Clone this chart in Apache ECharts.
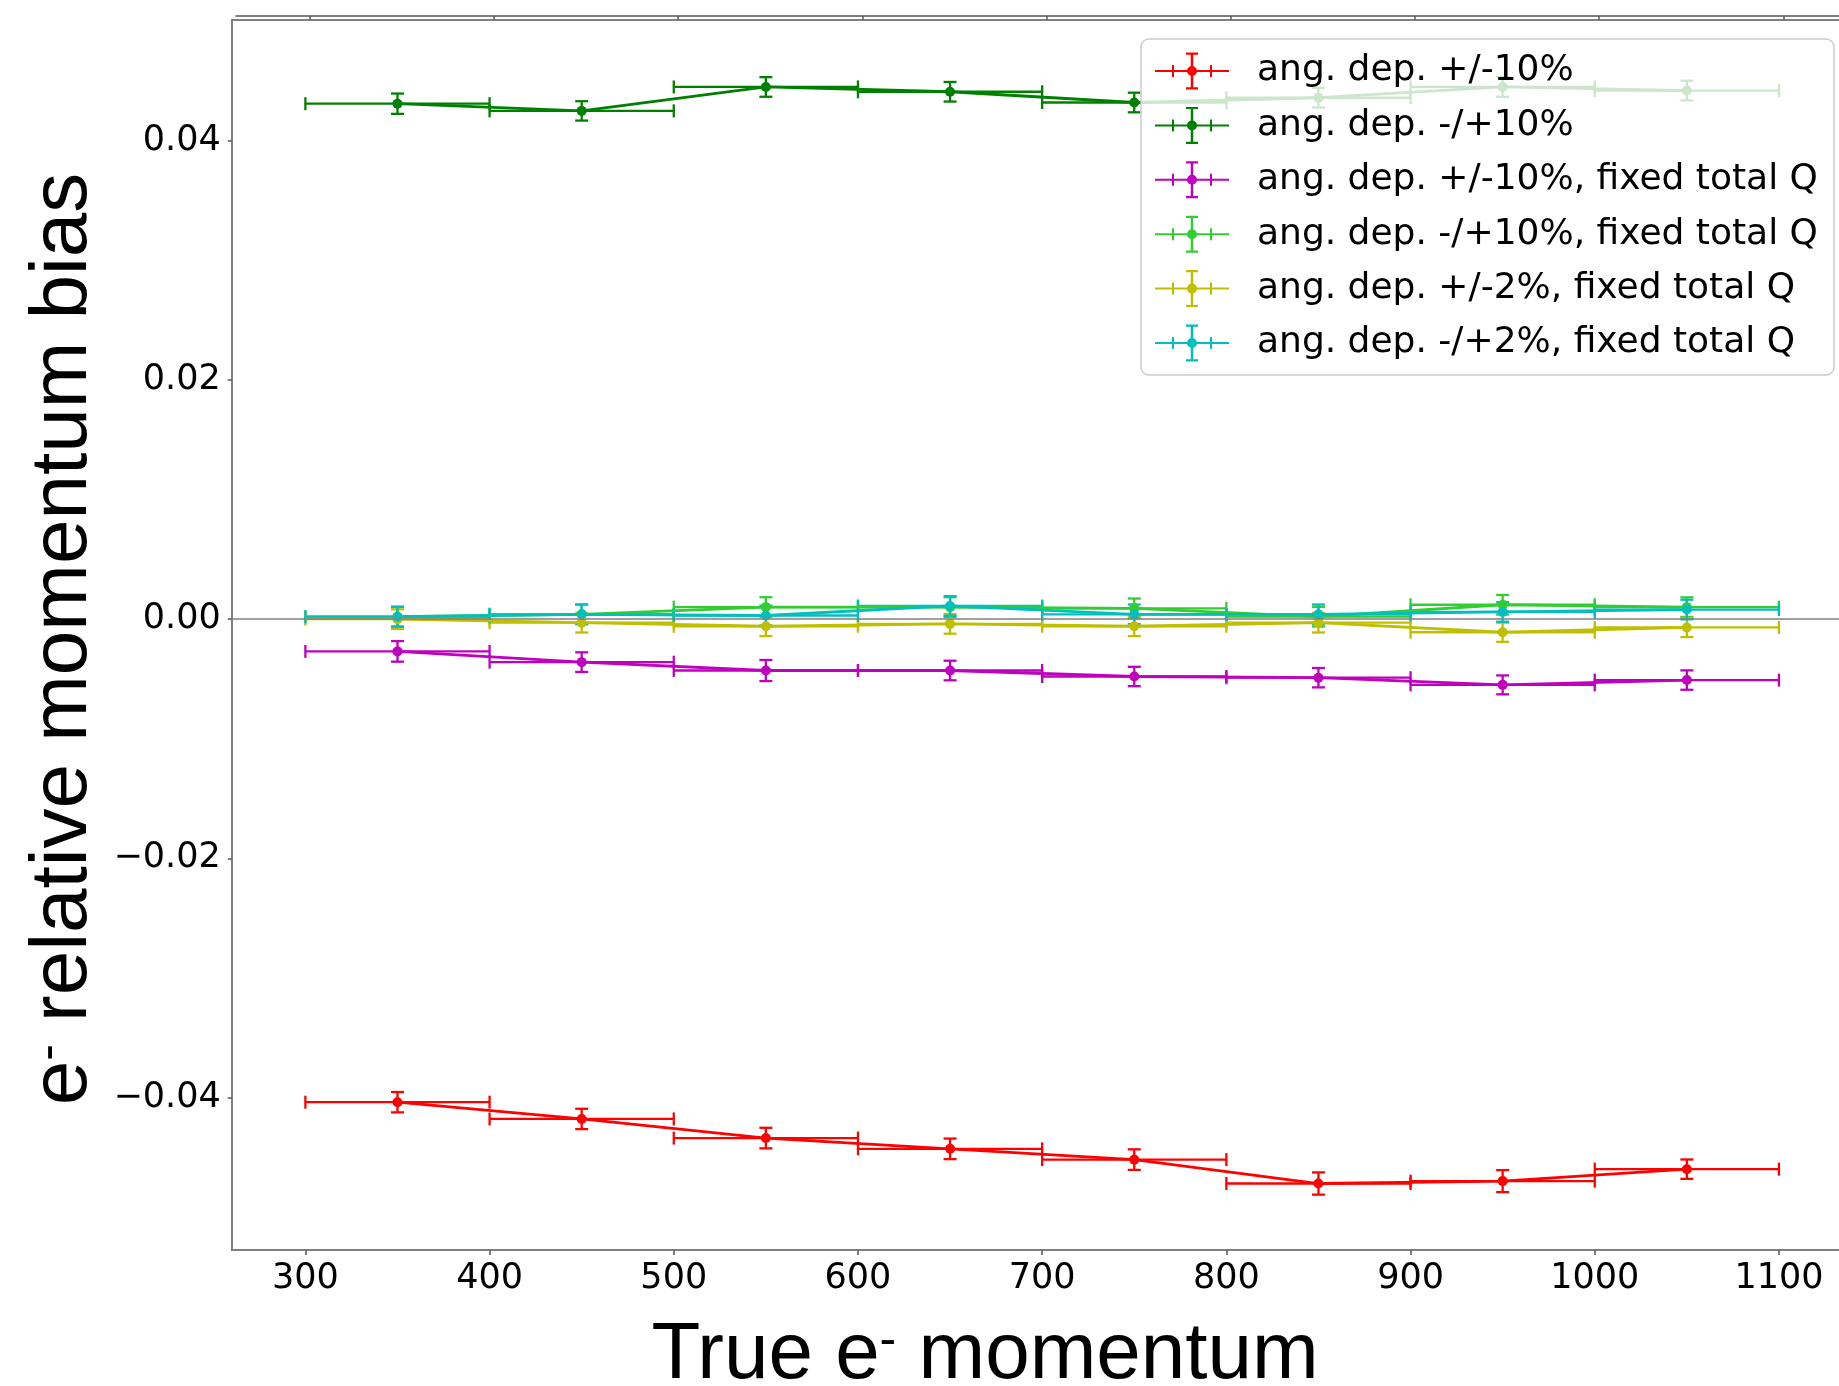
<!DOCTYPE html>
<html>
<head>
<meta charset="utf-8">
<script src="https://cdn.jsdelivr.net/npm/echarts@6/dist/echarts.min.js"></script>
<style>
html,body{margin:0;padding:0;background:#fff;overflow:hidden;}
#chart{width:1839px;height:1386px;}
</style>
</head>
<body>
<div id="chart"></div>
<script>
// ---------------- data ----------------
const xCenters = [350, 450, 550, 650, 750, 850, 950, 1050];
const xHalfWidth = 50;
const xTicks = [300, 400, 500, 600, 700, 800, 900, 1000, 1100];
const yTicks = [-0.04, -0.02, 0, 0.02, 0.04];
const yTickLabels = ['\u22120.04', '\u22120.02', '0.00', '0.02', '0.04'];

const seriesNames = [
  'ang. dep. +/-10%',
  'ang. dep. -/+10%',
  'ang. dep. +/-10%, fixed total Q',
  'ang. dep. -/+10%, fixed total Q',
  'ang. dep. +/-2%, fixed total Q',
  'ang. dep. -/+2%, fixed total Q'
];

const redY     = [-0.0404, -0.0418, -0.0434, -0.0443, -0.0452, -0.0472, -0.0470, -0.0460];
const redErr   = [0.00085, 0.00085, 0.00086, 0.00086, 0.00086, 0.00093, 0.00092, 0.00081];
const greenY   = [0.0431, 0.0425, 0.0445, 0.0441, 0.0432, 0.0436, 0.0445, 0.0442];
const greenErr = [0.00085, 0.00081, 0.00082, 0.00082, 0.00082, 0.00082, 0.00082, 0.00082];
const magY     = [-0.0027, -0.0036, -0.0043, -0.0043, -0.0048, -0.0049, -0.0055, -0.0051];
const magErr   = [0.00086, 0.00082, 0.00088, 0.00082, 0.00081, 0.00081, 0.00079, 0.00081];
const limeY    = [0.0002, 0.0004, 0.0010, 0.0010, 0.0009, 0.0002, 0.0012, 0.0010];
const limeErr  = [0.00083, 0.00082, 0.00083, 0.00083, 0.00082, 0.00082, 0.00082, 0.00082];
const yelY     = [0.0000, -0.0003, -0.0006, -0.0004, -0.0006, -0.0003, -0.0011, -0.0007];
const yelErr   = [0.00082, 0.00082, 0.00082, 0.00082, 0.00082, 0.00082, 0.00080, 0.00080];
const cyanY    = [0.0002, 0.0004, 0.0003, 0.0011, 0.0004, 0.0004, 0.0006, 0.0008];
const cyanErr  = [0.00083, 0.00082, 0.00082, 0.00082, 0.00082, 0.00082, 0.00082, 0.00082];

const allY   = [redY, greenY, magY, limeY, yelY, cyanY];
const allErr = [redErr, greenErr, magErr, limeErr, yelErr, cyanErr];
const seriesColors = ['#ff0000', '#008000', '#bf00bf', '#32cd32', '#bfbf00', '#00bfbf'];

// visible x range (plot continues past the right edge of the picture)
const xMin = 260, xMaxVisible = 1132.6, xMaxTop = 1130.2;

// ---------------- chart ----------------
const chart = echarts.init(document.getElementById('chart'), null, {renderer: 'canvas'});

const legendIcon = 'path://M0 17.5H74V19.5H0Z M17 12.5H19V24.5H17Z M55 12.5H57V24.5H55Z M35.75 0H38.25V37H35.75Z M31 0H43V2.2H31Z M31 34.8H43V37H31Z M37 13.5A5 5 0 1 1 37 23.5A5 5 0 1 1 37 13.5Z';

function makeErrRender(color) {
  return function (params, api) {
    const x = api.value(0), y = api.value(1), e = api.value(2);
    const pL = api.coord([x - xHalfWidth, y]);
    const pR = api.coord([x + xHalfWidth, y]);
    const pT = api.coord([x, y + e]);
    const pB = api.coord([x, y - e]);
    const c = 6.5;
    const st = {stroke: color, lineWidth: 2.3, fill: null};
    const ln = (x1, y1, x2, y2) => ({type: 'line', shape: {x1, y1, x2, y2}, style: st, silent: true});
    return {
      type: 'group',
      children: [
        ln(pL[0], pL[1], pR[0], pR[1]),
        ln(pL[0], pL[1] - c, pL[0], pL[1] + c),
        ln(pR[0], pR[1] - c, pR[0], pR[1] + c),
        ln(pT[0], pT[1], pB[0], pB[1]),
        ln(pT[0] - c, pT[1], pT[0] + c, pT[1]),
        ln(pB[0] - c, pB[1], pB[0] + c, pB[1])
      ]
    };
  };
}

const series = [];
seriesNames.forEach((name, i) => {
  const color = seriesColors[i];
  const errData = xCenters.map((x, k) => [x, allY[i][k], allErr[i][k]]);
  const lineData = xCenters.map((x, k) => [x, allY[i][k]]);
  const custom = {
    type: 'custom',
    name: name,
    xAxisIndex: 0,
    yAxisIndex: 0,
    renderItem: makeErrRender(color),
    itemStyle: {color: color},
    data: errData,
    silent: true
  };
  if (i === 0) {
    custom.markLine = {
      silent: true,
      symbol: ['none', 'none'],
      label: {show: false},
      lineStyle: {color: '#808080', width: 1.5, type: 'solid'},
      emphasis: {disabled: true},
      data: [{yAxis: 0}]
    };
  }
  series.push(custom);
  series.push({
    type: 'line',
    name: name,
    xAxisIndex: 0,
    yAxisIndex: 0,
    data: lineData,
    symbol: 'circle',
    symbolSize: 10,
    showSymbol: true,
    lineStyle: {color: color, width: 2.8},
    itemStyle: {color: color, borderWidth: 0},
    emphasis: {disabled: true},
    silent: true
  });
});

const axisFont = {fontFamily: 'DejaVu Sans', fontSize: 35, color: '#000'};
const titleRich = {
  a: {fontFamily: 'Liberation Sans', fontSize: 80, lineHeight: 80, color: '#000'},
  b: {fontFamily: 'Liberation Sans', fontSize: 50, lineHeight: 50, color: '#000', verticalAlign: 'top'}
};

const option = {
  animation: false,
  backgroundColor: '#ffffff',
  grid: [
    {left: 231.7, top: 20, right: 0, height: 1230},
    {left: 236, top: 0, right: 0, height: 15.7}
  ],
  xAxis: [
    {
      type: 'value', gridIndex: 0, min: xMin, max: xMaxVisible, position: 'bottom',
      axisLine: {show: true, onZero: false, lineStyle: {color: '#808080', width: 2}},
      axisTick: {show: true, customValues: xTicks, length: 5, lineStyle: {color: '#555', width: 1.5}},
      axisLabel: Object.assign({show: true, customValues: xTicks, margin: 11, formatter: v => String(v)}, axisFont),
      splitLine: {show: false}
    },
    {
      type: 'value', gridIndex: 1, min: xMin, max: xMaxTop, position: 'bottom',
      axisLine: {show: true, onZero: false, lineStyle: {color: '#555', width: 1.5}},
      axisTick: {show: true, customValues: xTicks, length: 4, lineStyle: {color: '#555', width: 1.5}},
      axisLabel: {show: false},
      splitLine: {show: false}
    },
    {
      type: 'value', gridIndex: 0, min: xMin, max: xMaxVisible, position: 'top',
      axisLine: {show: true, onZero: false, lineStyle: {color: '#808080', width: 2}},
      axisTick: {show: false},
      axisLabel: {show: false},
      splitLine: {show: false}
    }
  ],
  yAxis: [
    {
      type: 'value', gridIndex: 0, min: -0.05276, max: 0.0501,
      axisLine: {show: true, onZero: false, lineStyle: {color: '#808080', width: 2}},
      axisTick: {show: true, customValues: yTicks, length: 4, lineStyle: {color: '#555', width: 1.5}},
      axisLabel: Object.assign({
        show: true, customValues: yTicks, margin: 11,
        formatter: v => {
          const k = yTicks.findIndex(t => Math.abs(t - v) < 1e-9);
          return k >= 0 ? yTickLabels[k] : '';
        }
      }, axisFont),
      splitLine: {show: false}
    },
    {type: 'value', gridIndex: 1, min: 0, max: 1, show: false}
  ],
  legend: {
    orient: 'vertical',
    left: 1141,
    top: 39,
    padding: [13.5, 16, 13.5, 14],
    itemWidth: 74,
    itemHeight: 37,
    itemGap: 17.4,
    backgroundColor: 'rgba(255,255,255,0.8)',
    borderColor: '#cccccc',
    borderWidth: 1.5,
    borderRadius: 8,
    selectedMode: false,
    itemStyle: {borderWidth: 0},
    textStyle: {fontFamily: 'DejaVu Sans', fontSize: 36, lineHeight: 37, color: '#000', padding: [0, 0, 0, 23]},
    data: seriesNames.map(n => ({name: n, icon: legendIcon}))
  },
  graphic: [
    {
      type: 'text', x: 985, y: 1356, silent: true,
      style: {text: '{a|True e}{b|-}{a| momentum}', rich: titleRich, align: 'center', verticalAlign: 'middle',
              fontFamily: 'Liberation Sans', fontSize: 80, fill: '#000'}
    },
    {
      type: 'text', x: 64, y: 639, rotation: Math.PI / 2, silent: true,
      style: {text: '{a|e}{b|-}{a| relative momentum bias}', rich: titleRich, align: 'center', verticalAlign: 'middle',
              fontFamily: 'Liberation Sans', fontSize: 80, fill: '#000'}
    }
  ],
  series: series
};

chart.setOption(option);
</script>
</body>
</html>
